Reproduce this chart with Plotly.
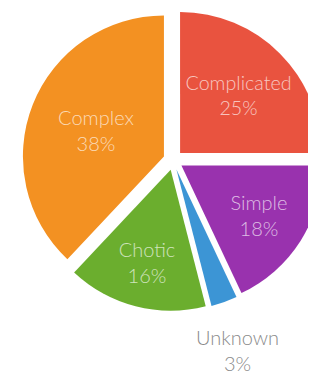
import plotly.graph_objects as go

labels = ["Complicated", "Simple", "Unknown", "Chotic", "Complex"]
values = [25, 18, 3, 16, 38]
colors = ["#E9533F", "#9932AE", "#3C95D5", "#6BAE2E", "#F39122"]
text_positions = ["inside", "inside", "none", "inside", "inside"]
outside_label = 2  # index of the slice labelled below the pie

total = sum(values)

fig = go.Figure(go.Pie(
    labels=labels,
    values=values,
    sort=False,
    direction="clockwise",
    rotation=0,
    pull=[0.07] * len(values),
    marker=dict(colors=colors, line=dict(width=0)),
    texttemplate="%{label}<br>%{percent:.0%}",
    textposition=text_positions,
    insidetextorientation="horizontal",
    insidetextfont=dict(family="Lato", size=20, weight=300, color="rgba(255,255,255,0.68)"),
    hoverinfo="label+percent",
    domain=dict(x=[0.045, 1.0], y=[0.1875, 0.997]),
))

fig.add_annotation(
    x=0.725, y=0.082, xref="paper", yref="paper",
    xanchor="center", yanchor="middle",
    text=f"{labels[outside_label]}<br>{round(100 * values[outside_label] / total)}%",
    showarrow=False,
    font=dict(family="Lato", size=20, weight=300, color="#8a8a8a"),
)

fig.update_layout(
    width=316, height=373,
    margin=dict(l=0, r=0, t=0, b=0),
    showlegend=False,
    paper_bgcolor="white",
    plot_bgcolor="white",
)

fig.write_html("out.html")
